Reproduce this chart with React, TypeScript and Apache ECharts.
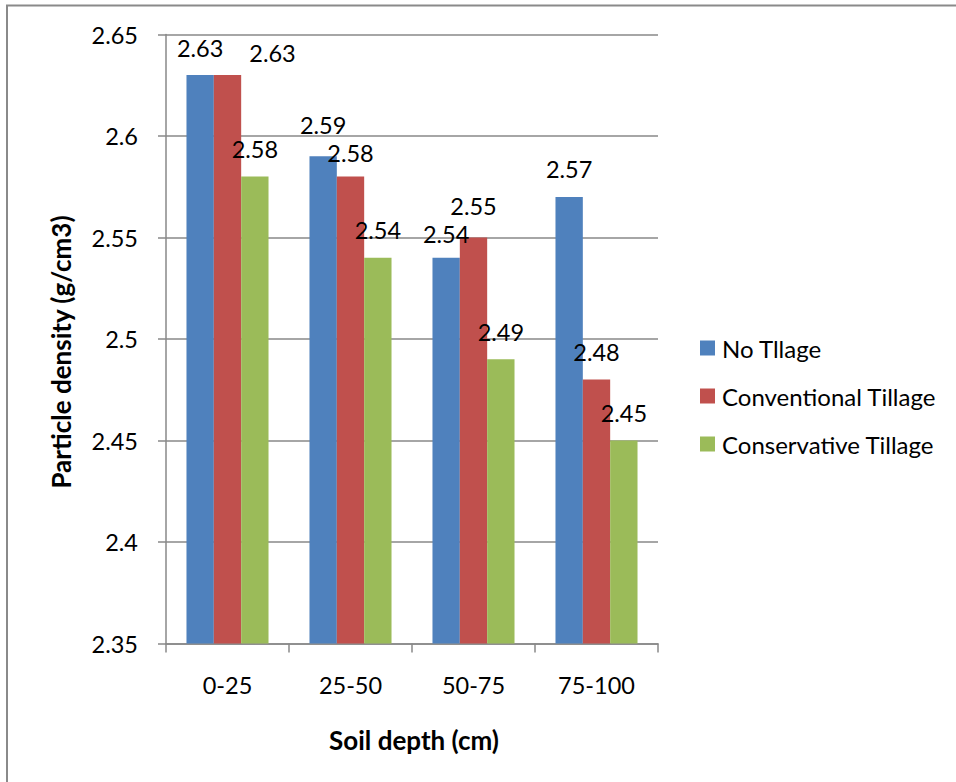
import React, { useEffect, useRef } from "react";
import * as echarts from "echarts";

// Soil depth classes (cm)
const depths = ["0-25", "25-50", "50-75", "75-100"];

// Particle density (g/cm3) by tillage system
const noTillage = [2.63, 2.59, 2.54, 2.57];
const conventionalTillage = [2.63, 2.58, 2.55, 2.48];
const conservativeTillage = [2.58, 2.54, 2.49, 2.45];

const seriesNames = ["No Tllage", "Conventional Tillage", "Conservative Tillage"];
const seriesColors = ["#4F81BD", "#C0504D", "#9BBB59"];

// hand-placed value labels: [series index, category index] -> [dx, dy]
const labelNudges: Record<string, [number, number]> = {
  "1-0": [45, 5],
  "0-1": [0, -4],
  "1-1": [0, 4],
  "0-2": [0, 4],
  "1-2": [0, -4],
};

const FONT = "Lato, 'Open Sans', sans-serif";

export default function App() {
  const ref = useRef<HTMLDivElement>(null);

  useEffect(() => {
    if (!ref.current) return;
    const chart = echarts.init(ref.current, null, { renderer: "svg" });

    const labelBase = {
      show: true,
      position: "top" as const,
      distance: 18.5,
      color: "#000",
      fontSize: 23.5,
      lineHeight: 18,
      fontFamily: FONT,
      formatter: (p: any) => String(p.value),
    };

    const makeSeries = (idx: number, values: number[]) => ({
      name: seriesNames[idx],
      type: "bar",
      data: values.map((v, i) => {
        const nudge = labelNudges[`${idx}-${i}`];
        return nudge ? { value: v, label: { offset: nudge } } : v;
      }),
      itemStyle: { color: seriesColors[idx] },
      label: labelBase,
      barGap: "0%",
      barCategoryGap: "33.3%",
    });

    chart.setOption({
      animation: false,
      backgroundColor: "#fff",
      textStyle: { fontFamily: FONT },
      grid: { left: 166, right: 298, top: 34.5, bottom: 138.5, containLabel: false },
      legend: {
        orient: "vertical",
        left: 700,
        top: 336,
        padding: 0,
        itemWidth: 15,
        itemHeight: 15,
        itemGap: 24,
        icon: "rect",
        textStyle: { fontSize: 24, color: "#000", fontFamily: FONT, padding: [0, 0, 0, 2] },
        data: seriesNames,
      },
      xAxis: {
        type: "category",
        data: depths,
        axisLine: { show: true, lineStyle: { color: "#888", width: 1.5 } },
        axisTick: { show: true, length: 9, lineStyle: { color: "#888", width: 1.5 } },
        axisLabel: { margin: 29, fontSize: 23.5, color: "#000", fontFamily: FONT },
      },
      yAxis: {
        type: "value",
        min: 2.35,
        max: 2.65,
        interval: 0.05,
        axisLine: { show: true, lineStyle: { color: "#888", width: 1.5 } },
        axisTick: { show: true, length: 8, lineStyle: { color: "#888", width: 1.5 } },
        splitLine: { show: true, lineStyle: { color: "#888", width: 1.5 } },
        axisLabel: {
          margin: 28,
          fontSize: 23.5,
          color: "#000",
          fontFamily: FONT,
          formatter: (v: number) => String(parseFloat(v.toFixed(2))),
        },
      },
      series: [
        makeSeries(0, noTillage),
        makeSeries(1, conventionalTillage),
        makeSeries(2, conservativeTillage),
      ],
      graphic: [
        {
          type: "rect",
          shape: { x: 7, y: 5.5, width: 1000, height: 1000 },
          style: { fill: "none", stroke: "#8a8a8a", lineWidth: 2 },
          silent: true,
        },
        {
          type: "text",
          x: 60.5,
          y: 352,
          rotation: Math.PI / 2,
          style: {
            text: "Particle density (g/cm3)",
            fontSize: 26,
            fontWeight: "bold",
            fontFamily: FONT,
            fill: "#000",
            align: "center",
            verticalAlign: "middle",
          },
        },
        {
          type: "text",
          x: 414,
          y: 740,
          style: {
            text: "Soil depth (cm)",
            fontSize: 26,
            fontWeight: "bold",
            fontFamily: FONT,
            fill: "#000",
            align: "center",
            verticalAlign: "middle",
          },
        },
      ],
    });

    return () => chart.dispose();
  }, []);

  return (
    <div
      ref={ref}
      style={{ position: "fixed", left: 0, top: 0, width: 956, height: 782, background: "#fff" }}
    />
  );
}
